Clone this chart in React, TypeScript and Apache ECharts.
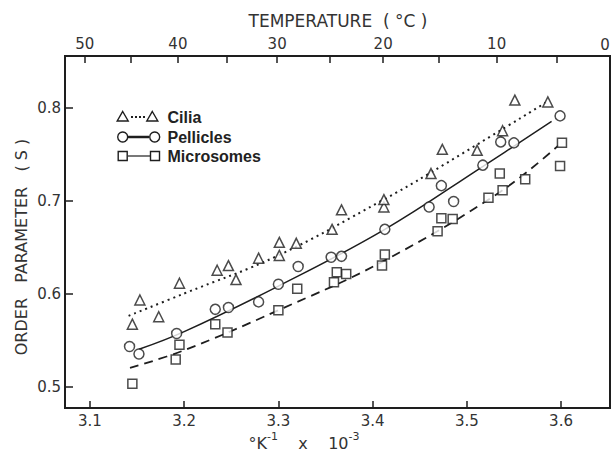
import React, { useEffect, useRef } from "react";
import * as echarts from "echarts";

// Axis ticks
const xTickValues = [3.1, 3.2, 3.3, 3.4, 3.5, 3.6];
const yTickValues = [0.5, 0.6, 0.7, 0.8];
const tempMajor = [50, 40, 30, 20, 10];
const tempMinor = [45, 35, 25, 15, 5];
const tempEdgeLabel = "0";

// Measured points [1/T x 10^3, order parameter S]
const ciliaPoints = [
  [3.145, 0.567], [3.153, 0.593], [3.173, 0.575], [3.195, 0.611], [3.235, 0.625],
  [3.247, 0.63], [3.255, 0.615], [3.279, 0.638], [3.301, 0.641], [3.301, 0.655],
  [3.319, 0.654], [3.357, 0.669], [3.367, 0.69], [3.412, 0.693], [3.412, 0.701],
  [3.462, 0.729], [3.474, 0.755], [3.511, 0.754], [3.538, 0.775], [3.551, 0.808],
  [3.586, 0.806],
];
const pelliclesPoints = [
  [3.142, 0.543], [3.152, 0.535], [3.192, 0.557], [3.233, 0.583], [3.247, 0.585],
  [3.279, 0.591], [3.3, 0.61], [3.321, 0.629], [3.356, 0.639], [3.367, 0.64],
  [3.413, 0.669], [3.46, 0.693], [3.473, 0.716], [3.486, 0.699], [3.517, 0.738],
  [3.536, 0.763], [3.55, 0.762], [3.599, 0.791],
];
const microsomesPoints = [
  [3.145, 0.503], [3.191, 0.529], [3.195, 0.545], [3.233, 0.567], [3.246, 0.558],
  [3.3, 0.582], [3.32, 0.605], [3.359, 0.612], [3.362, 0.623], [3.372, 0.621],
  [3.41, 0.63], [3.413, 0.642], [3.469, 0.667], [3.473, 0.681], [3.485, 0.68],
  [3.523, 0.703], [3.538, 0.711], [3.535, 0.729], [3.562, 0.723], [3.601, 0.762],
  [3.599, 0.737],
];

// Fitted curves
const ciliaFit = [[3.141, 0.576], [3.2, 0.6], [3.3, 0.641], [3.41, 0.7], [3.46, 0.729], [3.585, 0.806]];
const pelliclesFit = [[3.152, 0.54], [3.2, 0.559], [3.3, 0.608], [3.413, 0.669], [3.516, 0.736], [3.59, 0.785]];
const microsomesFit = [[3.1425, 0.52], [3.2, 0.539], [3.3, 0.582], [3.41, 0.634], [3.535, 0.709], [3.597, 0.759]];

const toInvK = (c: number) => 1000 / (273.15 + c);

const INK = "#1e1e1e";
const TXT = "#333";
const FONT = "DejaVu Sans";

export default function App() {
  const ref = useRef<HTMLDivElement>(null);
  useEffect(() => {
    if (!ref.current) return;
    const chart = echarts.init(ref.current, null, { renderer: "svg" });
    const xMin = 3.0735, xMax = 3.652;
    const axisLabelBase = { fontSize: 15, color: TXT, fontFamily: FONT };
    const markerStyle = { color: "#fff", borderColor: INK, borderWidth: 1.5 };

    const legendRows = [
      { y: 117, label: "Cilia" },
      { y: 137, label: "Pellicles" },
      { y: 156, label: "Microsomes" },
    ];
    const tri = (x: number, y: number) => ({
      type: "polygon",
      shape: { points: [[x, y - 5.5], [x + 5.5, y + 4], [x - 5.5, y + 4]] },
      style: { fill: "#fff", stroke: INK, lineWidth: 1.4 },
    });

    chart.setOption({
      animation: false,
      backgroundColor: "#fff",
      grid: { left: 65, right: 1, top: 56, bottom: 44, show: true, borderColor: INK, borderWidth: 2 },
      xAxis: [
        {
          type: "value", position: "bottom", min: xMin, max: xMax,
          axisLine: { show: true, lineStyle: { color: INK, width: 2 } },
          axisTick: { show: true, inside: true, length: 7, customValues: xTickValues, lineStyle: { color: INK, width: 1.5 } },
          axisLabel: { ...axisLabelBase, customValues: xTickValues, formatter: (v: number) => v.toFixed(1), margin: 5 },
          splitLine: { show: false },
        },
        {
          type: "value", position: "top", min: xMin, max: xMax,
          axisLine: { show: true, lineStyle: { color: INK, width: 2 } },
          axisTick: { show: true, inside: true, length: 7, customValues: [...tempMajor, ...tempMinor].map(toInvK), lineStyle: { color: INK, width: 1.5 } },
          axisLabel: { ...axisLabelBase, customValues: tempMajor.map(toInvK), formatter: (v: number) => String(Math.round(1000 / v - 273.15)), margin: 5 },
          splitLine: { show: false },
        },
      ],
      yAxis: {
        type: "value", min: 0.4769, max: 0.8554,
        axisLine: { show: true, lineStyle: { color: INK, width: 2 } },
        axisTick: { show: true, inside: true, length: 8, customValues: yTickValues, lineStyle: { color: INK, width: 1.5 } },
        axisLabel: { ...axisLabelBase, customValues: yTickValues, formatter: (v: number) => v.toFixed(1), margin: 4 },
        splitLine: { show: false },
      },
      series: [
        { type: "line", data: ciliaFit, smooth: 0.4, symbol: "none", lineStyle: { color: INK, width: 2, type: [2, 4] }, z: 2 },
        { type: "line", data: pelliclesFit, smooth: 0.4, symbol: "none", lineStyle: { color: INK, width: 1.5, type: "solid" }, z: 2 },
        { type: "line", data: microsomesFit, smooth: 0.4, symbol: "none", lineStyle: { color: INK, width: 1.8, type: [9, 6] }, z: 2 },
        { type: "scatter", data: ciliaPoints, symbol: "triangle", symbolSize: 10, itemStyle: markerStyle, z: 3 },
        { type: "scatter", data: pelliclesPoints, symbol: "circle", symbolSize: 10, itemStyle: markerStyle, z: 3 },
        { type: "scatter", data: microsomesPoints, symbol: "rect", symbolSize: 9, itemStyle: markerStyle, z: 3 },
      ],
      graphic: [
        // legend
        { type: "line", shape: { x1: 131, y1: legendRows[0].y, x2: 145, y2: legendRows[0].y }, style: { stroke: INK, lineWidth: 2.2, lineDash: [2, 2] } },
        tri(122.7, legendRows[0].y), tri(152.3, legendRows[0].y),
        { type: "line", shape: { x1: 128, y1: legendRows[1].y, x2: 149, y2: legendRows[1].y }, style: { stroke: INK, lineWidth: 2.5 } },
        { type: "circle", shape: { cx: 122.7, cy: legendRows[1].y, r: 5 }, style: { fill: "#fff", stroke: INK, lineWidth: 1.4 } },
        { type: "circle", shape: { cx: 154.7, cy: legendRows[1].y, r: 5 }, style: { fill: "#fff", stroke: INK, lineWidth: 1.4 } },
        { type: "line", shape: { x1: 128, y1: legendRows[2].y, x2: 150, y2: legendRows[2].y }, style: { stroke: INK, lineWidth: 1.2 } },
        { type: "rect", shape: { x: 118.2, y: legendRows[2].y - 4.5, width: 9, height: 9 }, style: { fill: "#fff", stroke: INK, lineWidth: 1.4 } },
        { type: "rect", shape: { x: 150.5, y: legendRows[2].y - 4.5, width: 9, height: 9 }, style: { fill: "#fff", stroke: INK, lineWidth: 1.4 } },
        ...legendRows.map((r) => ({
          type: "text", x: 167.5, y: r.y,
          style: { text: r.label, fontSize: 16, fontWeight: "bold", fontFamily: "Liberation Sans", fill: "#222", verticalAlign: "middle", align: "left" },
        })),
        // axis titles
        {
          type: "text", x: 21, y: 247, rotation: Math.PI / 2,
          style: { text: "ORDER   PARAMETER   ( S )", fontSize: 16, fontFamily: FONT, fill: TXT, align: "center", verticalAlign: "middle" },
        },
        {
          type: "text", x: 338, y: 21,
          style: { text: "TEMPERATURE  ( °C )", fontSize: 17, fontFamily: FONT, fill: TXT, align: "center", verticalAlign: "middle" },
        },
        {
          type: "text", x: 605, y: 45,
          style: { text: tempEdgeLabel, fontSize: 15, fontFamily: FONT, fill: TXT, align: "center", verticalAlign: "middle" },
        },
        {
          type: "text", x: 304, y: 441,
          style: {
            text: "{a|°K}{s|-1}{a|    x    10}{s|-3}",
            align: "center", verticalAlign: "middle",
            rich: {
              a: { fontSize: 16, fontFamily: FONT, fill: TXT, lineHeight: 20, verticalAlign: "bottom" },
              s: { fontSize: 11, fontFamily: FONT, fill: TXT, lineHeight: 11, verticalAlign: "top" },
            },
          },
        },
      ],
    });
    return () => chart.dispose();
  }, []);
  return <div ref={ref} style={{ position: "fixed", left: 0, top: 0, width: 611, height: 452 }} />;
}
